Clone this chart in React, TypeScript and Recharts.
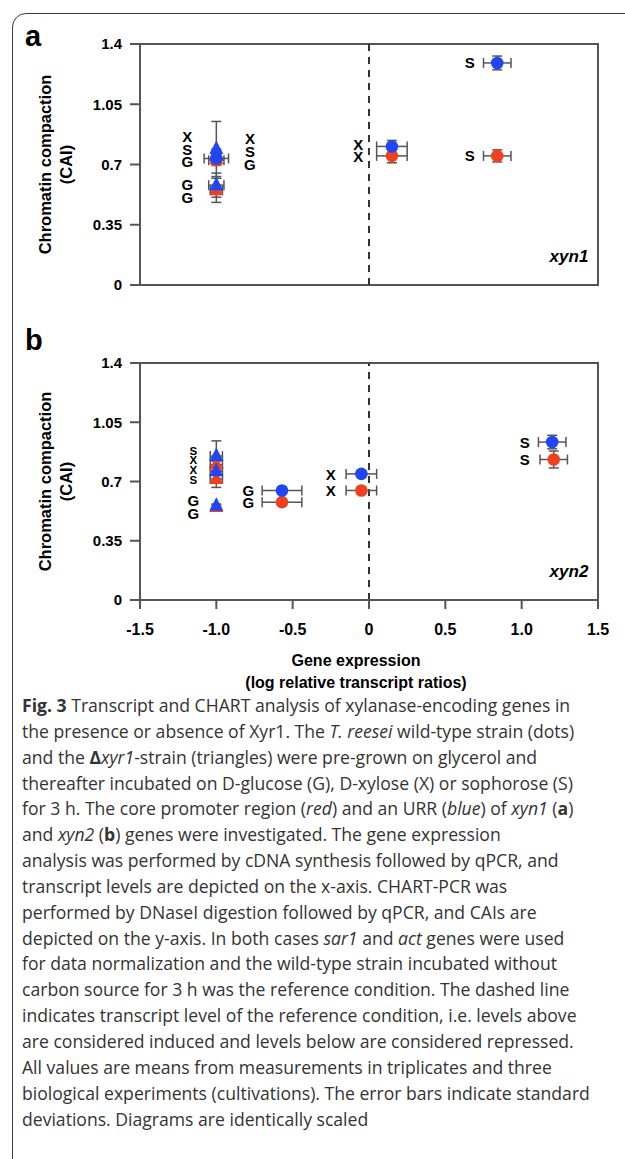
import React from "react"
import {
  ScatterChart,
  Scatter,
  XAxis,
  YAxis,
  ErrorBar,
  ReferenceLine,
  ReferenceArea,
  ReferenceDot,
} from "recharts"

// axis ticks
const X_TICKS = [-1.5, -1, -0.5, 0, 0.5, 1, 1.5]
const X_TICK_LABELS = ["-1.5", "-1.0", "-0.5", "0", "0.5", "1.0", "1.5"]
const Y_TICKS = [0, 0.35, 0.7, 1.05, 1.4]
const Y_TICK_LABELS = ["0", "0.35", "0.7", "1.05", "1.4"]

// panel a (xyn1): x = log transcript ratio, y = CAI, ex/ey = SD
const A_URR_WT = [
  { x: 0.84, y: 1.29, ex: 0.09, ey: 0.04 },
  { x: 0.15, y: 0.805, ex: 0.1, ey: 0.035 },
  { x: -1.0, y: 0.735, ex: 0.08, ey: 0.03 },
]
const A_CORE_WT = [
  { x: 0.84, y: 0.75, ex: 0.09, ey: 0.035 },
  { x: 0.15, y: 0.75, ex: 0.1, ey: 0.04 },
  { x: -1.0, y: 0.725, ex: 0.05, ey: 0.03 },
]
const A_URR_DEL = [
  { x: -1.0, y: 0.79, ex: 0, ey: 0.16 },
  { x: -1.0, y: 0.76, ex: 0, ey: 0.03 },
  { x: -1.0, y: 0.58, ex: 0.05, ey: 0.07 },
]
const A_CORE_DEL = [
  { x: -1.0, y: 0.75, ex: 0, ey: 0.03 },
  { x: -1.0, y: 0.73, ex: 0, ey: 0.03 },
  { x: -1.0, y: 0.55, ex: 0.04, ey: 0.07 },
]
const A_LABELS = [
  { x: -1.19, y: 0.86, t: "X" },
  { x: -1.19, y: 0.79, t: "S" },
  { x: -1.19, y: 0.715, t: "G" },
  { x: -0.78, y: 0.85, t: "X" },
  { x: -0.78, y: 0.775, t: "S" },
  { x: -0.78, y: 0.7, t: "G" },
  { x: -1.19, y: 0.585, t: "G" },
  { x: -1.19, y: 0.51, t: "G" },
  { x: -0.07, y: 0.815, t: "X" },
  { x: -0.07, y: 0.745, t: "X" },
  { x: 0.66, y: 1.29, t: "S" },
  { x: 0.66, y: 0.75, t: "S" },
]

// panel b (xyn2)
const B_URR_WT = [
  { x: 1.2, y: 0.933, ex: 0.09, ey: 0.04 },
  { x: -0.05, y: 0.745, ex: 0.1, ey: 0.02 },
  { x: -0.57, y: 0.647, ex: 0.13, ey: 0.02 },
]
const B_CORE_WT = [
  { x: 1.21, y: 0.83, ex: 0.09, ey: 0.05 },
  { x: -0.05, y: 0.647, ex: 0.1, ey: 0.02 },
  { x: -0.57, y: 0.578, ex: 0.13, ey: 0.02 },
]
const B_URR_DEL = [
  { x: -1.0, y: 0.85, ex: 0.04, ey: 0.09 },
  { x: -1.0, y: 0.76, ex: 0.04, ey: 0.02 },
  { x: -1.0, y: 0.557, ex: 0, ey: 0.01 },
]
const B_CORE_DEL = [
  { x: -1.0, y: 0.8, ex: 0.04, ey: 0.02 },
  { x: -1.0, y: 0.715, ex: 0.04, ey: 0.05 },
  { x: -1.0, y: 0.55, ex: 0, ey: 0.01 },
]
const B_STACK_LABELS = [
  { x: -1.15, y: 0.88, t: "S" },
  { x: -1.15, y: 0.825, t: "X" },
  { x: -1.15, y: 0.77, t: "X" },
  { x: -1.15, y: 0.71, t: "S" },
]
const B_LABELS = [
  { x: -1.15, y: 0.586, t: "G" },
  { x: -1.15, y: 0.509, t: "G" },
  { x: -0.79, y: 0.647, t: "G" },
  { x: -0.79, y: 0.578, t: "G" },
  { x: -0.25, y: 0.744, t: "X" },
  { x: -0.25, y: 0.647, t: "X" },
  { x: 1.02, y: 0.933, t: "S" },
  { x: 1.02, y: 0.828, t: "S" },
]

const BLUE = "#1f46f2"
const RED = "#f2401e"
const AXIS = "#555"
const FONT = "'Liberation Sans', Arial, Helvetica, sans-serif"

const circle = (color: string) => (p: any) => (
  <circle cx={p.cx} cy={p.cy} r={6.3} fill={color} />
)
const triangle = (color: string) => (p: any) => (
  <polygon
    points={`${p.cx},${p.cy - 8.5} ${p.cx - 7},${p.cy + 5} ${p.cx + 7},${p.cy + 5}`}
    fill={color}
  />
)
const textMark = (size: number) => (p: any) => (
  <text
    x={p.cx}
    y={p.cy}
    textAnchor="middle"
    dominantBaseline="central"
    fontFamily={FONT}
    fontWeight="bold"
    fontSize={size}
    fill="#000"
  >
    {p.payload?.t ?? p.t}
  </text>
)

const yTitle = (props: any) => {
  const vb = props.viewBox || {}
  const cy = (vb.y ?? 0) + (vb.height ?? 0) / 2
  return (
    <g fontFamily={FONT} fontWeight="bold" fontSize={16.5} fill="#000">
      <text x={45} y={cy} transform={`rotate(-90 45 ${cy})`} textAnchor="middle" dominantBaseline="central">
        Chromatin compaction
      </text>
      <text x={66} y={cy} transform={`rotate(-90 66 ${cy})`} textAnchor="middle" dominantBaseline="central">
        (CAI)
      </text>
    </g>
  )
}

const xTitle = (props: any) => {
  const vb = props.viewBox || {}
  const y0 = (vb.y ?? 0) + 60
  return (
    <g fontFamily={FONT} fontWeight="bold" fontSize={16} fill="#000" textAnchor="middle">
      <text x={356} y={y0} dominantBaseline="central">Gene expression</text>
      <text x={356} y={y0 + 22} dominantBaseline="central">(log relative transcript ratios)</text>
    </g>
  )
}

const series = (urrWt: any[], coreWt: any[], urrDel: any[], coreDel: any[]) => {
  const list = [
    { d: coreWt, shape: circle(RED), k: "cwt" },
    { d: coreDel, shape: triangle(RED), k: "cdel" },
    { d: urrWt, shape: circle(BLUE), k: "uwt" },
    { d: urrDel, shape: triangle(BLUE), k: "udel" },
  ]
  return list.map((s) => (
    <Scatter key={s.k} data={s.d} shape={s.shape} isAnimationActive={false}>
      <ErrorBar dataKey="ex" direction="x" width={5} stroke={AXIS} strokeWidth={1.5} />
      <ErrorBar dataKey="ey" direction="y" width={5} stroke={AXIS} strokeWidth={1.5} />
    </Scatter>
  ))
}

function Panel({ gene, urrWt, coreWt, urrDel, coreDel, labels, small, showX }: any) {
  return (
    <ScatterChart
      width={625}
      height={showX ? 400 : 300}
      margin={showX ? { top: 63, right: 27, bottom: 70, left: 20 } : { top: 44, right: 27, bottom: 15, left: 20 }}
    >
      <XAxis
        type="number"
        dataKey="x"
        domain={[-1.5, 1.5]}
        ticks={X_TICKS}
        hide={!showX}
        height={30}
        tickFormatter={(v: number) => X_TICK_LABELS[X_TICKS.indexOf(v)] ?? String(v)}
        tick={{ fontFamily: FONT, fontWeight: "bold", fontSize: 16, fill: "#000" }}
        tickSize={9}
        tickMargin={15}
        axisLine={{ stroke: AXIS, strokeWidth: 2 }}
        tickLine={{ stroke: AXIS, strokeWidth: 2 }}
        label={showX ? { content: xTitle } : undefined}
      />
      <YAxis
        type="number"
        dataKey="y"
        domain={[0, 1.4]}
        ticks={Y_TICKS}
        width={120}
        tickFormatter={(v: number) => Y_TICK_LABELS[Y_TICKS.indexOf(v)] ?? String(v)}
        tick={{ fontFamily: FONT, fontWeight: "bold", fontSize: 15, fill: "#000" }}
        tickSize={10}
        tickMargin={8}
        axisLine={{ stroke: AXIS, strokeWidth: 2 }}
        tickLine={{ stroke: AXIS, strokeWidth: 2 }}
        label={{ content: yTitle }}
      />
      <ReferenceArea x1={-1.5} x2={1.5} y1={0} y2={1.4} fill="none" stroke={AXIS} strokeWidth={2} ifOverflow="visible" />
      <ReferenceLine x={0} stroke="#333" strokeWidth={2} strokeDasharray="7 6" />
      <ReferenceDot
        x={1.31}
        y={0.17}
        r={0}
        ifOverflow="visible"
        label={{ value: gene, position: "center", fontFamily: FONT, fontWeight: "bold", fontStyle: "italic", fontSize: 17, fill: "#000" }}
      />
      {series(urrWt, coreWt, urrDel, coreDel)}
      <Scatter data={labels} shape={textMark(15)} isAnimationActive={false} />
      {small && <Scatter data={small} shape={textMark(11.5)} isAnimationActive={false} />}
    </ScatterChart>
  )
}

const CAPTION: React.ReactNode[] = [
  <><b>Fig. 3</b> Transcript and CHART analysis of xylanase-encoding genes in</>,
  <>the presence or absence of Xyr1. The <i>T. reesei</i> wild-type strain (dots)</>,
  <>and the <b>Δ</b><i>xyr1</i>-strain (triangles) were pre-grown on glycerol and</>,
  <>thereafter incubated on D-glucose (G), D-xylose (X) or sophorose (S)</>,
  <>for 3 h. The core promoter region (<i>red</i>) and an URR (<i>blue</i>) of <i>xyn1</i> (<b>a</b>)</>,
  <>and <i>xyn2</i> (<b>b</b>) genes were investigated. The gene expression</>,
  <>analysis was performed by cDNA synthesis followed by qPCR, and</>,
  <>transcript levels are depicted on the x-axis. CHART-PCR was</>,
  <>performed by DNaseI digestion followed by qPCR, and CAIs are</>,
  <>depicted on the y-axis. In both cases <i>sar1</i> and <i>act</i> genes were used</>,
  <>for data normalization and the wild-type strain incubated without</>,
  <>carbon source for 3 h was the reference condition. The dashed line</>,
  <>indicates transcript level of the reference condition, i.e. levels above</>,
  <>are considered induced and levels below are considered repressed.</>,
  <>All values are means from measurements in triplicates and three</>,
  <>biological experiments (cultivations). The error bars indicate standard</>,
  <>deviations. Diagrams are identically scaled</>,
]

export default function App() {
  return (
    <div style={{ position: "absolute", left: 0, top: 0, width: 625, height: 1159, overflow: "hidden", background: "#fff" }}>
      <div
        style={{
          position: "absolute",
          left: 12,
          top: 13,
          width: 700,
          height: 1200,
          border: "1.5px solid #3a3a3a",
          borderRadius: 14,
        }}
      />
      <div style={{ position: "absolute", left: 0, top: 0 }}>
        <Panel gene="xyn1" urrWt={A_URR_WT} coreWt={A_CORE_WT} urrDel={A_URR_DEL} coreDel={A_CORE_DEL} labels={A_LABELS} />
      </div>
      <div style={{ position: "absolute", left: 0, top: 300 }}>
        <Panel
          gene="xyn2"
          urrWt={B_URR_WT}
          coreWt={B_CORE_WT}
          urrDel={B_URR_DEL}
          coreDel={B_CORE_DEL}
          labels={B_LABELS}
          small={B_STACK_LABELS}
          showX
        />
      </div>
      <div style={{ position: "absolute", left: 25, top: 22, fontFamily: FONT, fontWeight: "bold", fontSize: 29, lineHeight: "29px" }}>a</div>
      <div style={{ position: "absolute", left: 25, top: 326, fontFamily: FONT, fontWeight: "bold", fontSize: 29, lineHeight: "29px" }}>b</div>
      <div style={{ position: "absolute", left: 22, top: 693, fontFamily: "'Open Sans', sans-serif", fontSize: 17.6, color: "#333" }}>
        {CAPTION.map((line, i) => (
          <div key={i} style={{ height: 25.85, lineHeight: "25.85px", whiteSpace: "nowrap" }}>
            {line}
          </div>
        ))}
      </div>
    </div>
  )
}
